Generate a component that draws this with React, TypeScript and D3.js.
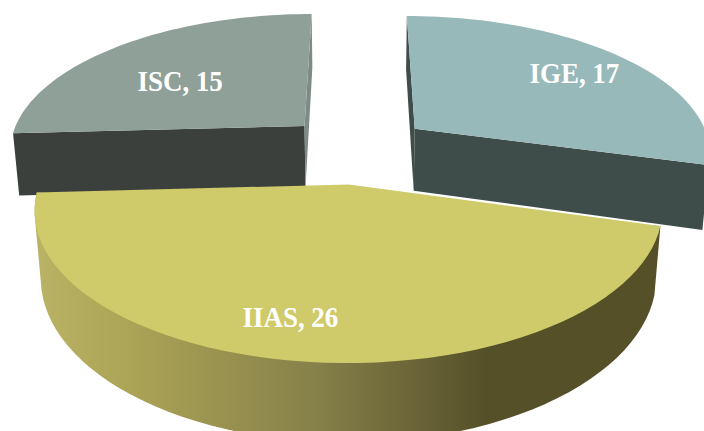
import * as d3 from "d3";

const categories = ["IGE", "IIAS", "ISC"];
const values = [17, 26, 15];

const topColors = ["#98b9ba", "#cfca6a", "#8fa098"];
const wallColors = ["#3f4d4a", "#565029", "#3b403d"];
const sideColors = ["#3f4d4a", "#565029", "#7c8c84"];

const width = 704;
const height = 431;

// projection of the tilted pie plane, fitted by eye on the picture
const cx = 357;
const radiusPx = 297;
const depth = 6.2; // camera distance, in pie radii
const horizonY = -700;
const planeH = 849;
const explode = 0.25;
const wallH = 63.5;
const wallVanish = 3500;

// how far along the bisector each label sits, and a small nudge
const labelRadius = [0.76, 0.78, 0.58];
const labelNudgeX = [0, -27, -13];
const labelNudgeY = [0, 0, 4];
const labelSquash = 0.93;

type Pt = [number, number];

// x = right, fwd = towards the viewer, both in pie radii
function project(x: number, fwd: number): Pt {
  const t = 1 / (1 - fwd / depth);
  return [cx + x * radiusPx * t, horizonY + planeH * t];
}

function drop(x: number, fwd: number): Pt {
  const t = 1 / (1 - fwd / depth);
  const [px, py] = project(x, fwd);
  const h = wallH * t;
  return [px + ((cx - px) * h) / wallVanish, py + h];
}

const pieGen = d3.pie<number>().sort(null);
const arcs = pieGen(values);
const line = d3.line();

function slice(i: number) {
  const a0 = arcs[i].startAngle;
  const a1 = arcs[i].endAngle;
  const mid = (a0 + a1) / 2;
  const ox = Math.sin(mid) * explode;
  const of = -Math.cos(mid) * explode;
  const rim = d3.range(0, 61).map((k) => {
    const a = a0 + ((a1 - a0) * k) / 60;
    return [ox + Math.sin(a), of - Math.cos(a)] as Pt;
  });
  const topPts = rim.map((p) => project(p[0], p[1]));
  const botPts = rim.map((p) => drop(p[0], p[1]));
  const apexT = project(ox, of);
  const apexB = drop(ox, of);
  const top = line([apexT, ...topPts])! + "Z";
  // hull gives the straight silhouette where the wall leaves the rim
  const outer = line(d3.polygonHull([...topPts, ...botPts]) as Pt[])! + "Z";
  const sideA = line([apexT, topPts[0], botPts[0], apexB])! + "Z";
  const n = topPts.length - 1;
  const sideB = line([apexT, topPts[n], botPts[n], apexB])! + "Z";
  const r = labelRadius[i];
  const lab = project(ox + Math.sin(mid) * r, of - Math.cos(mid) * r);
  return { top, outer, sideA, sideB, lab };
}

const slices = categories.map((_, i) => slice(i));
// the back slices first, the big front one over them
const order = [2, 0, 1];

export default function App() {
  return (
    <svg
      width={width}
      height={height}
      viewBox={`0 0 ${width} ${height}`}
      style={{ position: "absolute", left: 0, top: 0, display: "block", background: "#fff" }}
    >
      <defs>
        <linearGradient id="iiasWall" gradientUnits="userSpaceOnUse" x1={35} x2={661} y1={0} y2={0}>
          <stop offset="0" stopColor="#bab264" />
          <stop offset="0.13" stopColor="#aea657" />
          <stop offset="0.45" stopColor="#86804a" />
          <stop offset="0.72" stopColor="#565029" />
          <stop offset="1" stopColor="#565029" />
        </linearGradient>
      </defs>
      {order.map((i) => {
        const s = slices[i];
        // only the front slice shows its rim wall, the radial ones carry the back slices
        if (i === 1) {
          return (
            <g key={categories[i]}>
              <path d={s.outer} fill="url(#iiasWall)" />
              <path d={s.top} fill={topColors[i]} />
            </g>
          );
        }
        return (
          <g key={categories[i]}>
            <path d={s.sideA} fill={i === 0 ? sideColors[i] : wallColors[i]} />
            <path d={s.sideB} fill={sideColors[i]} />
            <path d={s.top} fill={topColors[i]} />
          </g>
        );
      })}
      {order.map((i) => {
        const lx = slices[i].lab[0] + labelNudgeX[i];
        const ly = slices[i].lab[1] + labelNudgeY[i];
        return (
          <text
            key={categories[i]}
            transform={`translate(${lx},${ly}) scale(${labelSquash},1)`}
            dy="0.34em"
            textAnchor="middle"
            fill="#ffffff"
            fontFamily="'Liberation Serif', serif"
            fontWeight="bold"
            fontSize={29}
          >
            {`${categories[i]}, ${values[i]}`}
          </text>
        );
      })}
    </svg>
  );
}
